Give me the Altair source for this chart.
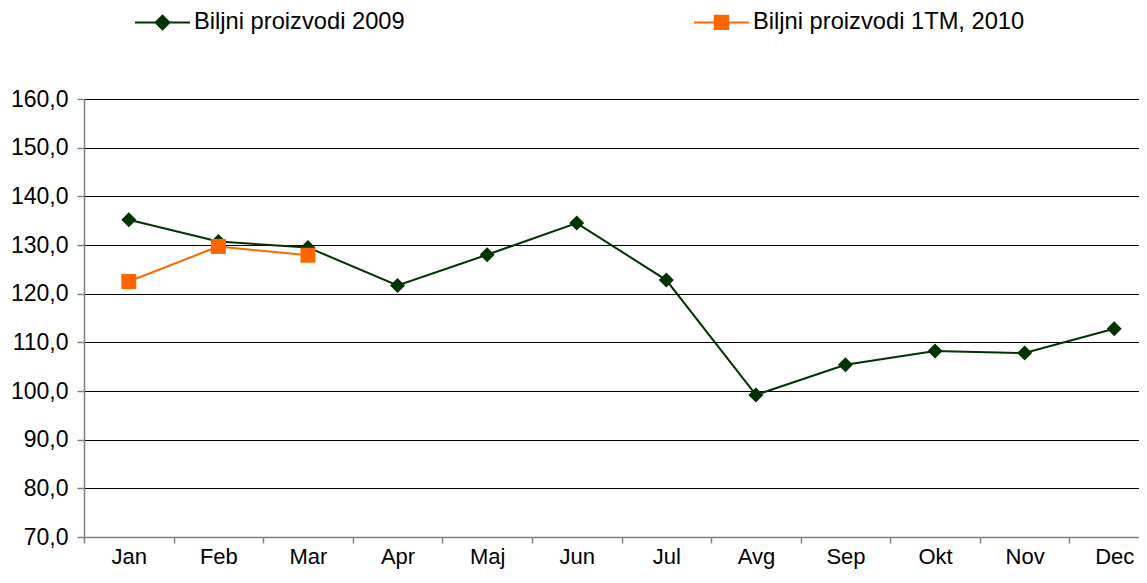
import altair as alt
import pandas as pd

months = ["Jan", "Feb", "Mar", "Apr", "Maj", "Jun", "Jul", "Avg", "Sep", "Okt", "Nov", "Dec"]
series_2009 = [135.2, 130.7, 129.5, 121.7, 128.0, 134.5, 122.8, 99.2, 105.4, 108.2, 107.8, 112.8]
months_2010 = ["Jan", "Feb", "Mar"]
series_2010 = [122.5, 129.7, 127.9]
names = ["Biljni proizvodi 2009", "Biljni proizvodi 1TM, 2010"]
colors = ["#003300", "#FF6600"]
y_ticks = [70, 80, 90, 100, 110, 120, 130, 140, 150, 160]

rows = [{"month": m, "series": names[0], "value": v} for m, v in zip(months, series_2009)]
rows += [{"month": m, "series": names[1], "value": v} for m, v in zip(months_2010, series_2010)]
df = pd.DataFrame(rows)

FONT = "Liberation Sans"

# legend symbols: a short line with the marker on it (filled path, unit box -1..1)
leg_diamond = "M-1,-0.037H1V0.037H-1Z M0,-0.3L0.3,0L0,0.3L-0.3,0Z"
leg_square = "M-1,-0.037H1V0.037H-1Z M-0.28,-0.28H0.28V0.28H-0.28Z"

legend = alt.Legend(
    orient="none", legendX=51, legendY=-104.5, direction="horizontal", title=None,
    symbolSize=3025, symbolStrokeWidth=0, symbolOpacity=1,
    labelFontSize=23.7, labelFont=FONT,
    labelColor="#000000", labelLimit=600, columnPadding=289, labelOffset=4, padding=0,
)

x = alt.X(
    "month:N", sort=months, title=None, bandPosition=0.5,
    scale=alt.Scale(type="band", domain=months, paddingInner=0, paddingOuter=0, range=[0, 1075]),
    axis=alt.Axis(labelAngle=0, labelFont=FONT, labelFontSize=22, labelColor="#000000",
                  tickBand="extent", tickSize=6, tickColor="#808080", tickWidth=1.5,
                  domainColor="#808080", domainWidth=1.5, labelPadding=3, grid=False),
)
y = alt.Y(
    "value:Q", title=None,
    scale=alt.Scale(domain=[70, 160], nice=False, zero=False),
    axis=alt.Axis(values=y_ticks, labelExpr="replace(format(datum.value, '.1f'), '.', ',')",
                  labelFont=FONT, labelFontSize=23, labelColor="#000000",
                  tickSize=7, tickColor="#808080", tickWidth=1.5,
                  domainColor="#808080", domainWidth=1.5, labelPadding=9,
                  grid=True, gridColor="#000000", gridWidth=1),
)
color = alt.Color("series:N", scale=alt.Scale(domain=names, range=colors), legend=legend)
shape_leg = alt.Shape("series:N", scale=alt.Scale(domain=names, range=[leg_diamond, leg_square]), legend=legend)

line = alt.Chart(df).mark_line(strokeWidth=2).encode(x=x, y=y, color=color, detail="series:N")
pbase = alt.Chart(df).encode(x=x, y=y, color=color)
pts09 = pbase.transform_filter(alt.datum.series == names[0]).mark_point(
    filled=True, size=225, opacity=1, shape="diamond")
pts10 = pbase.transform_filter(alt.datum.series == names[1]).mark_point(
    filled=True, size=225, opacity=1, shape="square")
# legend-only layer: invisible points whose shape scale carries the line+marker symbols
leg = alt.Chart(df).mark_point(filled=True, opacity=0).encode(x=x, y=y, color=color, shape=shape_leg)

chart = alt.layer(leg, line, pts09, pts10).properties(
    width=1055, height=438,
    padding={"left": 76, "top": 91, "right": 0, "bottom": 38},
    autosize=alt.AutoSizeParams(type="none"),
).configure_view(stroke=None)

chart.save("out.html", embed_options={"renderer": "svg", "actions": False})
